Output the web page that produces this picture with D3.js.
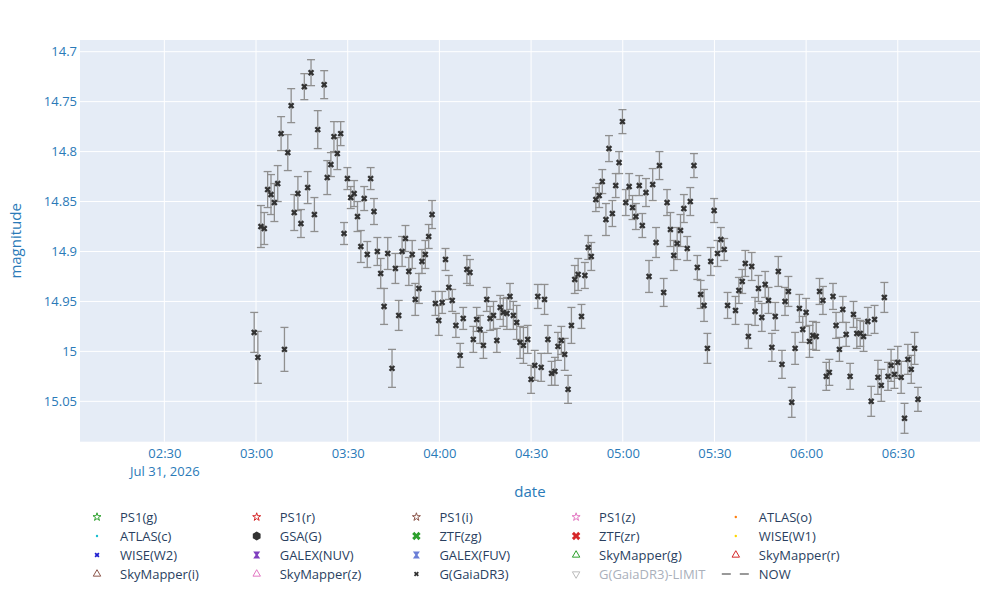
<!DOCTYPE html>
<html lang="en">
<head>
<meta charset="UTF-8">
<script src="https://d3js.org/d3.v7.min.js"></script>
<title>Gaia DR3 light curve</title>
<style>
  body { margin: 0; background: #fff; }
  text { font-family: "Open Sans", verdana, arial, sans-serif; }
</style>
</head>
<body>
<svg id="chart" width="1000" height="600"></svg>
<script>

// minutes after 03:00 (Jul 31, 2026) for each G(GaiaDR3) point
const minutes = [
  -0.6, 0.6, 1.6, 2.7, 3.8, 4.9, 6.0, 7.1, 8.2, 9.3,
  10.4, 11.5, 12.5, 13.7, 14.7, 15.8, 16.9, 18.0, 19.1, 20.2,
  22.3, 23.3, 24.5, 25.5, 26.6, 27.7, 28.8, 29.9, 31.0, 32.1,
  33.2, 34.3, 35.4, 36.4, 37.5, 38.6, 39.7, 40.8, 41.9, 43.1,
  44.5, 45.6, 46.7, 47.8, 48.9, 50.0, 51.1, 52.1, 53.3, 54.3,
  55.4, 56.5, 57.6, 58.7, 59.8, 60.9, 62.0, 63.1, 64.2, 65.4,
  66.8, 67.8, 69.0, 70.0, 71.1, 72.2, 73.3, 74.4, 75.5, 76.6,
  77.7, 78.8, 79.9, 80.9, 82.1, 83.1, 84.2, 85.3, 86.4, 87.5,
  88.9, 90.0, 91.2, 92.2, 93.3, 94.4, 95.5, 96.7, 97.8, 98.8,
  99.9, 101.0, 102.1, 103.2, 104.3, 105.4, 106.5, 107.6, 108.7, 109.7,
  111.2, 112.3, 113.3, 114.5, 115.5, 116.6, 117.7, 118.8, 119.9, 121.0,
  122.1, 123.2, 124.3, 125.4, 126.4, 127.6, 128.6, 129.8, 130.9, 132.0,
  133.4, 134.5, 135.6, 136.7, 137.8, 138.9, 140.0, 141.1, 142.1, 143.3,
  144.4, 145.5, 146.6, 147.7, 148.8, 149.9, 151.0, 152.1, 153.2, 154.3,
  156.9, 158.0, 159.1, 160.1, 161.1, 162.2, 163.3, 164.4, 165.5, 166.6,
  167.7, 168.8, 169.9, 170.9, 172.1, 173.1, 174.2, 175.3, 176.4, 177.8,
  178.9, 180.0, 181.1, 182.2, 183.3, 184.4, 185.5, 186.6, 187.6, 188.8,
  189.8, 190.9, 192.0, 193.1, 194.4, 195.5, 196.6, 197.7, 198.8, 200.2,
  201.3, 202.4, 203.5, 204.6, 205.6, 206.8, 207.8, 208.9, 210.0, 211.1,
  212.2, 213.3, 214.4, 215.5, 216.6
];

const mags = [
  14.981, 15.006, 14.875, 14.877, 14.838, 14.843, 14.851, 14.832, 14.782, 14.998,
  14.801, 14.754, 14.861, 14.842, 14.872, 14.735, 14.836, 14.721, 14.863, 14.778,
  14.733, 14.826, 14.813, 14.785, 14.802, 14.782, 14.882, 14.827, 14.846, 14.842,
  14.865, 14.895, 14.847, 14.903, 14.827, 14.860, 14.900, 14.922, 14.955, 14.902,
  15.017, 14.917, 14.964, 14.900, 14.887, 14.920, 14.903, 14.948, 14.937, 14.910,
  14.903, 14.885, 14.863, 14.952, 14.969, 14.951, 14.908, 14.936, 14.949, 14.974,
  15.004, 14.967, 14.918, 14.921, 14.988, 14.968, 14.978, 14.994, 14.948, 14.967,
  14.964, 14.989, 14.956, 14.961, 14.962, 14.945, 14.964, 14.971, 14.991, 14.994,
  14.988, 15.028, 15.014, 14.945, 15.016, 14.948, 14.988, 15.022, 15.020, 14.995,
  14.989, 15.003, 15.038, 14.974, 14.928, 14.923, 14.965, 14.924, 14.896, 14.905,
  14.848, 14.844, 14.830, 14.868, 14.797, 14.862, 14.834, 14.811, 14.770, 14.851,
  14.835, 14.856, 14.865, 14.834, 14.874, 14.841, 14.925, 14.833, 14.891, 14.814,
  14.941, 14.851, 14.878, 14.904, 14.892, 14.879, 14.857, 14.897, 14.850, 14.814,
  14.916, 14.943, 14.954, 14.997, 14.910, 14.859, 14.902, 14.888, 14.898, 14.954,
  14.959, 14.939, 14.930, 14.912, 14.985, 14.915, 14.960, 14.937, 14.966, 14.933,
  14.949, 14.996, 14.965, 14.920, 15.013, 14.950, 14.940, 15.051, 14.997, 14.957,
  14.978, 14.961, 14.990, 14.984, 14.985, 14.940, 14.949, 15.025, 15.021, 14.945,
  14.974, 14.998, 14.958, 14.983, 15.025, 14.963, 14.982, 14.982, 14.985, 14.970,
  15.050, 14.968, 15.026, 15.034, 14.946, 15.025, 15.014, 15.023, 15.011, 15.026,
  15.067, 15.008, 15.018, 14.997, 15.048
];

const errs = [
  20, 26, 21, 16, 18, 20, 19, 18, 17, 22,
  18, 17, 18, 17, 14, 13, 16, 13, 17, 19,
  14, 17, 12, 15, 16, 12, 11, 11, 11, 13,
  15, 16, 12, 13, 11, 13, 14, 15, 18, 16,
  19, 15, 15, 15, 13, 14, 14, 16, 15, 12,
  14, 12, 14, 12, 15, 11, 11, 12, 11, 12,
  12, 11, 14, 13, 13, 12, 14, 13, 12, 12,
  14, 12, 12, 14, 16, 13, 14, 17, 16, 18,
  14, 14, 15, 12, 14, 15, 14, 12, 14, 14,
  14, 16, 14, 18, 14, 16, 12, 13, 12, 14,
  12, 12, 12, 16, 13, 13, 12, 11, 12, 13,
  13, 12, 13, 10, 12, 14, 16, 16, 15, 14,
  14, 13, 17, 15, 16, 16, 14, 12, 14, 12,
  12, 14, 16, 15, 14, 12, 13, 12, 11, 13,
  14, 13, 12, 13, 12, 14, 14, 13, 14, 13,
  13, 14, 14, 15, 14, 14, 15, 15, 16, 14,
  13, 14, 16, 14, 14, 13, 14, 14, 13, 13,
  13, 12, 13, 12, 13, 13, 15, 13, 15, 14,
  15, 14, 17, 16, 15, 14, 16, 14, 16, 16,
  15, 15, 14, 16, 12
].map(e => e / 1000);

const magTicks = [14.7, 14.75, 14.8, 14.85, 14.9, 14.95, 15, 15.05];
const magRange = [14.6883, 15.0904];

// legend entries (trace names, colours, marker types)
const legendNames = [
  "PS1(g)", "PS1(r)", "PS1(i)", "PS1(z)", "ATLAS(o)",
  "ATLAS(c)", "GSA(G)", "ZTF(zg)", "ZTF(zr)", "WISE(W1)",
  "WISE(W2)", "GALEX(NUV)", "GALEX(FUV)", "SkyMapper(g)", "SkyMapper(r)",
  "SkyMapper(i)", "SkyMapper(z)", "G(GaiaDR3)", "G(GaiaDR3)-LIMIT", "NOW"
];
const legendColors = [
  "#2ca02c", "#d62728", "#8c564b", "#e377c2", "#ff7f0e",
  "#17becf", "#333333", "#2ca02c", "#d62728", "#ffd700",
  "#1f1fd0", "#7f3fbf", "#6b7fd7", "#2ca02c", "#d62728",
  "#8c564b", "#e377c2", "#333333", "#bbbbbb", "#999999"
];
const legendShapes = [
  "star", "star", "star", "star", "dot",
  "dot", "hexagon", "xbig", "xbig", "dot",
  "xsmall", "hourglass", "hourglass", "triangle", "triangle",
  "triangle", "triangle", "xsmall", "triangledown", "dash"
];

const svg = d3.select("svg#chart");
const margin = {top: 40, right: 20, bottom: 158.3, left: 80};
const width = +svg.attr("width");
const height = +svg.attr("height");
const chartWidth = width - margin.left - margin.right;
const chartHeight = height - margin.top - margin.bottom;

const base = new Date(2026, 6, 31, 3, 0, 0);
const toDate = m => new Date(base.getTime() + m * 60000);

const xScale = d3.scaleTime()
  .domain([toDate(-57.6), toDate(236.9)])
  .range([0, chartWidth]);
const yScale = d3.scaleLinear()
  .domain(magRange)
  .range([0, chartHeight]);

const tickColor = "#2a7ab8";

const plot = svg.append("g")
  .attr("transform", `translate(${margin.left},${margin.top})`);

plot.append("rect")
  .attr("width", chartWidth)
  .attr("height", chartHeight)
  .attr("fill", "#e5ecf6");

// grid
const xTicks = xScale.ticks(d3.timeMinute.every(30));
plot.append("g").selectAll("line")
  .data(xTicks)
  .join("line")
  .attr("x1", d => xScale(d)).attr("x2", d => xScale(d))
  .attr("y1", 0).attr("y2", chartHeight)
  .attr("stroke", "#fff").attr("stroke-width", 1);
plot.append("g").selectAll("line")
  .data(magTicks)
  .join("line")
  .attr("x1", 0).attr("x2", chartWidth)
  .attr("y1", d => yScale(d)).attr("y2", d => yScale(d))
  .attr("stroke", "#fff").attr("stroke-width", 1);

// axes
const xAxis = d3.axisBottom(xScale)
  .tickValues(xTicks)
  .tickSize(0)
  .tickPadding(7)
  .tickFormat(d3.timeFormat("%H:%M"));
const gx = plot.append("g")
  .attr("transform", `translate(0,${chartHeight})`)
  .call(xAxis);
gx.select(".domain").remove();
gx.selectAll("text")
  .attr("fill", tickColor)
  .style("font-size", "13px")
  .style("font-family", '"Open Sans", verdana, arial, sans-serif');
// first tick carries the date on a second line (one text element, two lines)
gx.selectAll(".tick").filter((d, i) => i === 0).select("text")
  .append("tspan")
  .attr("x", 0)
  .attr("dy", "1.4em")
  .text(d3.timeFormat("%b %-d, %Y")(xTicks[0]));

const yAxis = d3.axisLeft(yScale)
  .tickValues(magTicks)
  .tickSize(0)
  .tickPadding(3)
  .tickFormat(d => d3.format("")(d));
const gy = plot.append("g").call(yAxis);
gy.select(".domain").remove();
gy.selectAll("text")
  .attr("fill", tickColor)
  .style("font-size", "13px")
  .style("font-family", '"Open Sans", verdana, arial, sans-serif');

// axis titles
svg.append("text")
  .attr("x", margin.left + chartWidth / 2)
  .attr("y", 497)
  .attr("text-anchor", "middle")
  .attr("fill", tickColor)
  .style("font-size", "15px")
  .text("date");
svg.append("text")
  .attr("transform", `translate(21,${margin.top + chartHeight / 2}) rotate(-90)`)
  .attr("text-anchor", "middle")
  .attr("fill", tickColor)
  .style("font-size", "15px")
  .text("magnitude");

// data
const points = minutes.map((m, i) => ({date: toDate(m), mag: mags[i], err: errs[i]}));
const cap = 4;
const bars = plot.append("g")
  .attr("stroke", "#8f8f8f")
  .attr("stroke-width", 1.3)
  .attr("fill", "none");
const barG = bars.selectAll("g")
  .data(points)
  .join("g");
barG.append("line")
  .attr("x1", d => xScale(d.date)).attr("x2", d => xScale(d.date))
  .attr("y1", d => yScale(d.mag - d.err)).attr("y2", d => yScale(d.mag + d.err));
barG.append("line")
  .attr("x1", d => xScale(d.date) - cap).attr("x2", d => xScale(d.date) + cap)
  .attr("y1", d => yScale(d.mag - d.err)).attr("y2", d => yScale(d.mag - d.err));
barG.append("line")
  .attr("x1", d => xScale(d.date) - cap).attr("x2", d => xScale(d.date) + cap)
  .attr("y1", d => yScale(d.mag + d.err)).attr("y2", d => yScale(d.mag + d.err));

const xSymbol = d3.symbol().type(d3.symbolCross).size(26);
plot.append("g").selectAll("path")
  .data(points)
  .join("path")
  .attr("transform", d => `translate(${xScale(d.date)},${yScale(d.mag)}) rotate(45)`)
  .attr("d", xSymbol)
  .attr("fill", "#333");

// legend
function hexPath(r) {
  const pts = d3.range(6).map(k => {
    const a = Math.PI / 3 * k + Math.PI / 6;
    return [r * Math.cos(a), r * Math.sin(a)];
  });
  return d3.line()(pts) + "Z";
}
function hourglassPath(r) {
  return d3.line()([[-r, -r], [r, -r], [r * 0.3, 0], [r, r], [-r, r], [-r * 0.3, 0]]) + "Z";
}

const legend = svg.append("g");
const colX = d => 97 + (d % 5) * 159.7;
const rowY = d => 517 + Math.floor(d / 5) * 19;
const items = legend.selectAll("g")
  .data(legendNames.map((n, i) => ({name: n, color: legendColors[i], shape: legendShapes[i], i})))
  .join("g")
  .attr("transform", d => `translate(${colX(d.i)},${rowY(d.i)})`);

items.each(function(d) {
  const g = d3.select(this);
  if (d.shape === "star") {
    g.append("path").attr("d", d3.symbol().type(d3.symbolStar).size(20))
      .attr("fill", "none").attr("stroke", d.color).attr("stroke-width", 1);
  } else if (d.shape === "dot") {
    g.append("circle").attr("r", 1.2).attr("fill", d.color);
  } else if (d.shape === "hexagon") {
    g.append("path").attr("d", hexPath(4.5)).attr("fill", d.color);
  } else if (d.shape === "xbig") {
    g.append("path").attr("d", d3.symbol().type(d3.symbolCross).size(45))
      .attr("transform", "rotate(45)").attr("fill", d.color);
  } else if (d.shape === "xsmall") {
    g.append("path").attr("d", d3.symbol().type(d3.symbolCross).size(16))
      .attr("transform", "rotate(45)").attr("fill", d.color);
  } else if (d.shape === "hourglass") {
    g.append("path").attr("d", hourglassPath(3.5)).attr("fill", d.color);
  } else if (d.shape === "triangle") {
    g.append("path").attr("d", d3.symbol().type(d3.symbolTriangle).size(24))
      .attr("fill", "none").attr("stroke", d.color).attr("stroke-width", 1);
  } else if (d.shape === "triangledown") {
    g.append("path").attr("d", d3.symbol().type(d3.symbolTriangle).size(24))
      .attr("transform", "rotate(180)")
      .attr("fill", "none").attr("stroke", d.color).attr("stroke-width", 1);
  } else if (d.shape === "dash") {
    g.append("line").attr("x1", -18).attr("x2", 18)
      .attr("stroke", d.color).attr("stroke-width", 2)
      .attr("stroke-dasharray", "9,9").attr("stroke-dashoffset", -4);
  }
  g.append("text")
    .attr("x", 23)
    .attr("dy", "0.35em")
    .attr("fill", d.name === "G(GaiaDR3)-LIMIT" ? "#aab0bb" : "#2a3f5f")
    .style("font-size", "13px")
    .text(d.name);
});

</script>
</body>
</html>
